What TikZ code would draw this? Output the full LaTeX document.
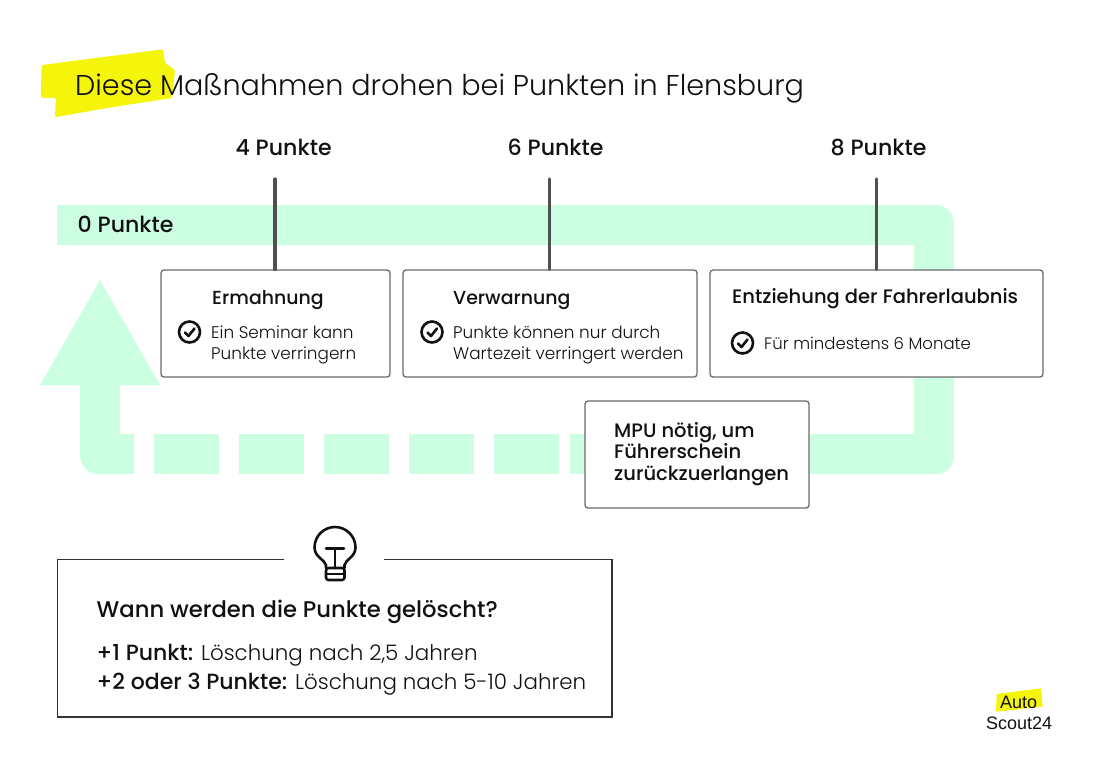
\documentclass[tikz,border=0pt]{standalone}
\usepackage{fontspec}
\usetikzlibrary{calc}
\setmainfont{Poppins}
\newfontfamily\lightf{Poppins Light}
\newfontfamily\medf{Poppins Medium}
\newfontfamily\logof{Liberation Sans}
\definecolor{mint}{HTML}{CCFFE2}
\definecolor{hl}{HTML}{F5F50C}
\definecolor{ink}{HTML}{111111}
\definecolor{edge}{HTML}{6A6A6A}
\definecolor{tickc}{HTML}{505050}
\definecolor{frame}{HTML}{333333}
\tikzset{
  txt/.style={anchor=base west,inner sep=0pt,text=ink},
  ttl/.style={txt,font=\lightf\fontsize{28.65}{29}\selectfont},
  lvl/.style={txt,font=\medf\fontsize{22.1}{22}\selectfont},
  hd/.style={txt,font=\medf\fontsize{19.5}{20}\selectfont},
  hdb/.style={txt,font=\medf\fontsize{18.9}{20}\selectfont},
  bodytxt/.style={txt,font=\lightf\fontsize{16.85}{18}\selectfont},
  bodyb/.style={txt,font=\lightf\fontsize{16.5}{18}\selectfont},
  info/.style={txt,font=\medf\fontsize{22.7}{23}\selectfont},
  infol/.style={txt,font=\lightf\fontsize{21.4}{22}\selectfont},
  logot/.style={txt,font=\logof\fontsize{18}{18}\selectfont},
  card/.style={draw=edge,fill=white,line width=1.3pt,rounded corners=3pt,inner sep=0pt},
  tick/.style={draw=tickc,line width=3.2pt,line cap=round},
  chk/.style={draw=ink,line width=2.6pt,circle,minimum size=21pt,inner sep=0pt},
  chkm/.style={draw=ink,line width=2.6pt,line cap=round,line join=round},
  band/.style={fill=mint,draw=none},
  bulb/.style={draw=ink,line width=2.6pt,line cap=round,line join=round},
}
\begin{document}
\begin{tikzpicture}[x=1pt,y=-1pt]
\useasboundingbox (0,0) rectangle (1100,769);
\fill[white] (0,0) rectangle (1100,769);
% highlight
\fill[hl,rounded corners=1.5pt] (41.7,65) -- (163,49.3) -- (165,63) -- (175,70) -- (172,98) -- (107,108) -- (55,117.3) -- (56,98) -- (40.7,97.7) -- cycle;
\node[ttl] (title) at (75,95) {Diese Maßnahmen drohen bei Punkten in Flensburg};
% band
\path[band] (57,205) [rounded corners=18pt] -- (954,205) -- (954,474) [sharp corners] -- (570,474) -- (570,434) -- (914,434) -- (914,245) -- (57,245) -- cycle;
\fill[band] (494,434) rectangle (559,474);
\fill[band] (409,434) rectangle (474,474);
\fill[band] (324,434) rectangle (389,474);
\fill[band] (239,434) rectangle (304,474);
\fill[band] (154,434) rectangle (219,474);
\path[band] (134,434) -- (120,434) -- (120,385) -- (160,385) -- (100,280) -- (40,385) -- (80,385) [rounded corners=18pt] -- (80,474) [sharp corners] -- (134,474) -- cycle;
\node[lvl] (p0) at (77.5,232.5) {0 Punkte};
\node[lvl] (p4) at (235.5,155) {4 Punkte};
\node[lvl] (p6) at (507.5,155) {6 Punkte};
\node[lvl] (p8) at (830.5,155) {8 Punkte};
% cards
\node[card,minimum width=229pt,minimum height=107pt] (c1) at (275.5,323.5) {};
\node[card,minimum width=294pt,minimum height=107pt] (c2) at (550,323.5) {};
\node[card,minimum width=333pt,minimum height=107pt] (c3) at (876.5,323.5) {};
\node[card,minimum width=224pt,minimum height=107pt] (c4) at (697,454.5) {};
% ticks
\coordinate (t1) at (275,179);
\coordinate (t2) at (549.5,179);
\coordinate (t3) at (876.5,179);
\draw[tick] (t1) -- (t1 |- c1.north);
\draw[tick] (t2) -- (t2 |- c2.north);
\draw[tick] (t3) -- (t3 |- c3.north);
% card text
\node[hdb] (h1) at (212,304) {Ermahnung};
\node[chk] (k1) at (189.5,332) {};
\draw[chkm] ($(k1)+(-4.5,0.5)$) -- ($(k1)+(-1,4)$) -- ($(k1)+(5,-3.5)$);
\node[bodytxt] (b1a) at (211,338) {Ein Seminar kann};
\node[bodytxt] (b1b) at (211,359) {Punkte verringern};
\node[hdb] (h2) at (453,304) {Verwarnung};
\node[chk] (k2) at (432,332) {};
\draw[chkm] ($(k2)+(-4.5,0.5)$) -- ($(k2)+(-1,4)$) -- ($(k2)+(5,-3.5)$);
\node[bodytxt] (b2a) at (453,338) {Punkte können nur durch};
\node[bodytxt] (b2b) at (453,359) {Wartezeit verringert werden};
\node[hd] (h3) at (732,303) {Entziehung der Fahrerlaubnis};
\node[chk] (k3) at (742.5,343) {};
\draw[chkm] ($(k3)+(-4.5,0.5)$) -- ($(k3)+(-1,4)$) -- ($(k3)+(5,-3.5)$);
\node[bodyb] (b3) at (764,349) {Für mindestens 6 Monate};
\node[hd] (m1) at (614,437) {MPU nötig, um};
\node[hd] (m2) at (614,458) {Führerschein};
\node[hd] (m3) at (614,480) {zurückzuerlangen};
% info box
\draw[frame,line width=1.2pt] (284,559.5) -- (57.5,559.5) -- (57.5,717) -- (612,717) -- (612,559.5) -- (384,559.5);
\draw[bulb] (326,568) -- (326,565) .. controls (325,560) and (314.5,557) .. (314.5,547.5) arc[start angle=180,end angle=360,radius=20.5] .. controls (355.5,557) and (345,560) .. (344.5,565) -- (344.5,568);
\draw[bulb,rounded corners=2.5pt] (326,568) -- (326,580) -- (344.5,580) -- (344.5,568) -- cycle;
\draw[bulb] (326,574) -- (344.5,574);
\draw[bulb] (326,548.5) -- (344,548.5);
\draw[bulb] (335,548.5) -- (335,568);
\node[info] (q) at (96.5,617) {Wann werden die Punkte gelöscht?};
\node[infol] (a1) at (96.5,660) {{\medf\fontsize{22}{22}\selectfont +1 Punkt:} Löschung nach 2,5 Jahren};
\node[infol] (a2) at (96.5,689) {{\medf\fontsize{22}{22}\selectfont +2 oder 3 Punkte:} Löschung nach 5-10 Jahren};
% logo
\fill[hl] (996.7,694) -- (1041,688.3) -- (1042.7,706.7) -- (996,711.7) -- cycle;
\node[logot] (la) at (1000,708.5) {Auto};
\node[logot] (lb) at (986,729) {Scout24};
\end{tikzpicture}
\end{document}
